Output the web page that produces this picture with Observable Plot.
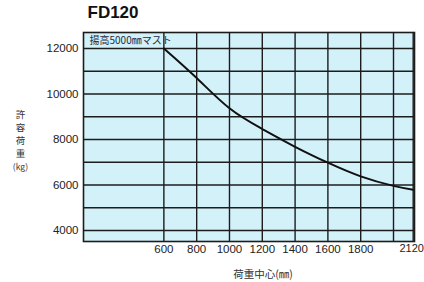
<!DOCTYPE html>
<html>
<head>
<meta charset="utf-8">
<script src="https://cdn.jsdelivr.net/npm/d3@7"></script>
<script src="https://cdn.jsdelivr.net/npm/@observablehq/plot@0.6"></script>
<style>
  html, body { margin: 0; padding: 0; background: #ffffff; }
  #chart { width: 424px; height: 282px; }
</style>
</head>
<body>
<div id="chart"></div>
<script>
// Data
const loadCenter = [600, 800, 1000, 1200, 1400, 1600, 1800, 2000, 2120];
const allowableLoad = [12000, 10700, 9370, 8460, 7680, 6980, 6380, 5960, 5790];
const xGrid = [600, 800, 1000, 1200, 1400, 1600, 1800, 2000, 2120];
const xTickLabels = [600, 800, 1000, 1200, 1400, 1600, 1800];
const xEndTickLabel = [2120];
const yGrid = [4000, 5000, 6000, 7000, 8000, 9000, 10000, 11000, 12000];
const yTickLabels = [4000, 6000, 8000, 10000, 12000];
const titleText = "FD120";
const mastText = "揚高5000㎜マスト";
const xLabelText = "荷重中心(㎜)";
const yLabelParts = ["許", "容", "荷", "重", "(kg)"];

const data = loadCenter.map((x, i) => ({x, y: allowableLoad[i]}));

const jp = "'Noto Sans CJK JP', 'Noto Sans', sans-serif";
const num = "'Liberation Sans', Arial, sans-serif";
const ink = "#1c1c1c";

const yLabelMarks = yLabelParts.map((t, i) =>
  Plot.text([t], {frameAnchor: "left", dx: -63, dy: -22 + i * 13, fontSize: i === 4 ? 8.5 : 9.5, fill: "#333", fontFamily: jp, textAnchor: "middle", lineAnchor: "middle"})
);

const chart = Plot.plot({
  width: 424,
  height: 282,
  marginLeft: 83,
  marginRight: 10,
  marginTop: 32,
  marginBottom: 41,
  style: {background: "#ffffff", fontFamily: num, fontSize: "11px", color: "#222"},
  x: {domain: [110, 2128]},
  y: {domain: [3516, 12703]},
  marks: [
    Plot.frame({fill: "#d3f1f9", stroke: "none"}),
    Plot.ruleX(xGrid, {stroke: ink, strokeWidth: 1.4}),
    Plot.ruleY(yGrid, {stroke: ink, strokeWidth: 1.4}),
    Plot.line(data, {x: "x", y: "y", curve: "natural", stroke: "#111", strokeWidth: 2}),
    Plot.frame({stroke: ink, strokeWidth: 1.6}),
    Plot.axisX(xTickLabels, {tickSize: 0, tickPadding: 3, fontSize: 11.5, fill: "#222", label: null, fontFamily: num, tickFormat: d3.format("d")}),
    Plot.axisX(xEndTickLabel, {tickSize: 0, tickPadding: 3, fontSize: 11, dx: -1.5, fill: "#222", label: null, fontFamily: num, tickFormat: d3.format("d")}),
    Plot.axisY(yTickLabels, {tickSize: 0, tickPadding: 5, fontSize: 11.5, fill: "#222", label: null, fontFamily: num, tickFormat: d3.format("d")}),
    Plot.text([titleText], {frameAnchor: "top-left", dx: 4, dy: -20, fontSize: 17, fontWeight: "bold", fill: "#111", fontFamily: num, textAnchor: "start", lineAnchor: "middle"}),
    Plot.text([mastText], {frameAnchor: "top-left", dx: 6, dy: 8, fontSize: 10, fill: "#1e2a44", fontFamily: jp, textAnchor: "start", lineAnchor: "middle"}),
    Plot.text([xLabelText], {frameAnchor: "bottom", dx: 14, dy: 33, fontSize: 10.5, fill: "#333", fontFamily: jp, lineAnchor: "middle"}),
    ...yLabelMarks
  ]
});
document.getElementById("chart").appendChild(chart);
</script>
</body>
</html>
